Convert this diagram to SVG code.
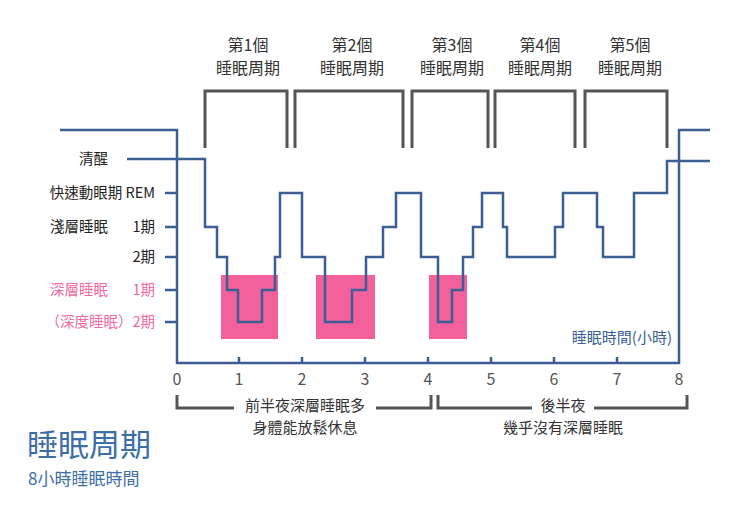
<svg xmlns="http://www.w3.org/2000/svg" width="733" height="506" viewBox="0 0 733 506">
<style>
text{font-family:"Noto Sans CJK TC","Noto Sans CJK SC",sans-serif}
.ln{fill:none;stroke:#3b5f95;stroke-width:2.5}
.br{fill:none;stroke:#555;stroke-width:3}
.lb{font-size:14.5px;fill:#222;text-anchor:end}
.pk{font-size:14.5px;fill:#ef6aa0;text-anchor:end}
.cy{font-size:16px;fill:#333;text-anchor:middle}
.ax{font-size:16px;fill:#555;text-anchor:middle}
.bt{font-size:15px;fill:#333;text-anchor:middle}
.deep{fill:#f4609c}
</style>
<rect width="733" height="506" fill="#fff"/>
<g id="deep-boxes">
<rect class="deep" x="221" y="275" width="57" height="64"/>
<rect class="deep" x="316" y="275" width="59" height="64"/>
<rect class="deep" x="429" y="275" width="38" height="64"/>
</g>
<g id="connectors">
<path class="ln" d="M60 130H177V363H679V130H710"/>
<path class="ln" d="M165 193H177M165 227H177M165 257H177M165 290H177M165 322H177"/>
<path class="ln" d="M239 363V357M302 363V357M365 363V357M428 363V357M491 363V357M554 363V357M617 363V357"/>
<path class="ln" d="M127 159H205V227H217V257H227V290H238V322H262V290H275V257H280V193H302V257H325V322H352V290H366V257H383V227H396V193H421V257H438V322H452V290H463V257H473V227H482V193H503V227H507V257H555V227H563V193H597V227H603V257H634V193H667V161H710"/>
<path class="br" d="M205 148V91H287V148M295 148V91H403V148M412 148V91H488V148M495 148V91H575V148M585 148V91H667V148"/>
<path class="br" d="M177 395V408H234M376 408H431V395M438 395V408H532M594 408H687V395"/>
</g>
<g id="cycles">
<text class="cy" x="248" y="51">第1個</text><text class="cy" x="248" y="74">睡眠周期</text>
<text class="cy" x="352" y="51">第2個</text><text class="cy" x="352" y="74">睡眠周期</text>
<text class="cy" x="452" y="51">第3個</text><text class="cy" x="452" y="74">睡眠周期</text>
<text class="cy" x="540" y="51">第4個</text><text class="cy" x="540" y="74">睡眠周期</text>
<text class="cy" x="630" y="51">第5個</text><text class="cy" x="630" y="74">睡眠周期</text>
</g>
<g id="levels">
<text class="lb" x="108" y="164">清醒</text>
<text class="lb" x="155" y="198">快速動眼期 REM</text>
<text class="lb" x="108" y="232">淺層睡眠</text><text class="lb" x="155" y="232">1期</text>
<text class="lb" x="155" y="262">2期</text>
<text class="pk" x="108" y="295">深層睡眠</text><text class="pk" x="155" y="295">1期</text>
<text class="pk" x="155" y="327">（深度睡眠）2期</text>
</g>
<g id="axis-labels">
<text class="ax" x="177" y="385">0</text><text class="ax" x="239" y="385">1</text><text class="ax" x="302" y="385">2</text>
<text class="ax" x="365" y="385">3</text><text class="ax" x="428" y="385">4</text><text class="ax" x="491" y="385">5</text>
<text class="ax" x="554" y="385">6</text><text class="ax" x="617" y="385">7</text><text class="ax" x="679" y="385">8</text>
<text x="672" y="343" font-size="15" fill="#3b5f95" text-anchor="end">睡眠時間(小時)</text>
</g>
<g id="halves">
<text class="bt" x="305" y="411">前半夜深層睡眠多</text>
<text class="bt" x="305" y="433">身體能放鬆休息</text>
<text class="bt" x="563" y="411">後半夜</text>
<text class="bt" x="563" y="433">幾乎沒有深層睡眠</text>
</g>
<g id="title">
<text x="27" y="456" font-size="31" fill="#3d6fa6">睡眠周期</text>
<text x="28" y="485" font-size="17" fill="#3d6fa6">8小時睡眠時間</text>
</g>
</svg>
